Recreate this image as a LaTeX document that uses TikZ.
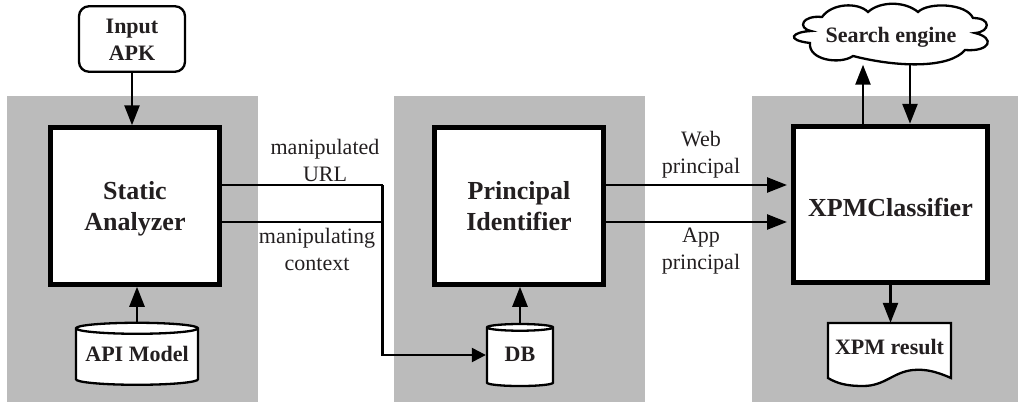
\documentclass[tikz,border=0pt]{standalone}
\usepackage{fontspec}
\setmainfont{Liberation Serif}
\usepackage{tikz}
\usetikzlibrary{arrows.meta,shapes.geometric,positioning}
\definecolor{xpmgray}{RGB}{187,187,187}
\definecolor{xpmtext}{RGB}{35,31,32}
\tikzstyle{panel} = [fill=xpmgray]
\tikzstyle{module} = [rectangle, minimum width=169pt, minimum height=156.5pt, align=center, draw=black, fill=white, line width=5pt, text=xpmtext, text height=54.6pt, font=\fontsize{26}{31}\bfseries\selectfont]
\tikzstyle{store} = [cylinder, shape border rotate=90, minimum height=62pt, draw=black, fill=white, line width=2.3pt, text=xpmtext, text depth=8pt, font=\fontsize{22}{27}\bfseries\selectfont]
\tikzstyle{small} = [align=center, inner sep=0pt, text=xpmtext, font=\fontsize{22}{27}\bfseries\selectfont]
\tikzstyle{note} = [align=center, inner sep=0pt, text=xpmtext, font=\fontsize{22}{27}\selectfont]
\tikzstyle{arrow} = [line width=2.5pt, -{Triangle[length=20pt,width=15pt]}]
\tikzstyle{wire} = [line width=2.3pt]

\begin{document}
\begin{tikzpicture}[x=1pt,y=-1pt]
\useasboundingbox (0,0) rectangle (1018,402);
\fill[panel] (7,96) rectangle (258,402);
\fill[panel] (394,96) rectangle (645,402);
\fill[panel] (752,96) rectangle (1018,402);

\node[module] (analyzer) at (135,206) {Static\\Analyzer};
\node[module, right=210pt of analyzer, text depth=5.6pt] (identifier) {Principal\\Identifier};
\node[module, minimum width=194pt, right=185pt of identifier, yshift=1.5pt, text height=23.6pt] (classifier) {XPMClassifier};

\node[small, draw=black, fill=white, line width=2.3pt, rectangle, rounded corners=10pt, minimum width=106pt, minimum height=65.5pt, text height=42pt] (input) at (132,39) {Input\\APK};
\node[store, aspect=0.1, minimum width=122pt] (model) at (137,358) {API Model};
\node[store, aspect=0.18, minimum width=66pt] (db) at (520,358) {DB};

\draw[wire, fill=white] (811,31) .. controls (797,28) and (802,15) .. (822,17)
  .. controls (832,3) and (858,2) .. (868,12)
  .. controls (880,1) and (905,1) .. (918,12)
  .. controls (928,2) and (966,3) .. (973,18)
  .. controls (992,18) and (990,32) .. (975,33)
  .. controls (996,38) and (990,52) .. (965,50)
  .. controls (950,68) and (900,68) .. (853,56)
  .. controls (840,65) and (808,60) .. (810,43)
  .. controls (785,40) and (792,32) .. cycle;
\node[small, minimum width=194pt, minimum height=59pt, text height=19pt] (engine) at (891,35) {Search engine};

\draw[wire, fill=white] (828,378) -- (828,323) -- (951,323) -- (951,378)
  .. controls (935,371) and (925,369) .. (913,370)
  .. controls (893,372) and (885,386) .. (863,386)
  .. controls (848,386) and (838,384) .. cycle;
\node[small, minimum width=123pt, minimum height=48pt] (result) at (889.5,347) {XPM result};

\draw[arrow] (input) -- (input |- analyzer.north);
\draw[arrow] (model.north) -- (model.north |- analyzer.south);
\draw[arrow] (db.north) -- (db.north |- identifier.south);

\coordinate (turn) at (382.5,185);
\coordinate (join) at (382.5,222);
\coordinate (drop) at (382.5,355);
\draw[wire] (analyzer.east |- turn) -- (turn);
\draw[wire] (analyzer.east |- join) -- (join);
\draw[wire, -{Triangle[length=14pt,width=14pt]}] (turn) -- (drop) -- (drop -| db.west);

\draw[arrow, shorten >=4pt] (identifier.east |- turn) -- (classifier.west |- turn);
\draw[arrow, shorten >=4pt] (identifier.east |- join) -- (classifier.west |- join);

\draw[arrow] ([xshift=-27.5pt]classifier.north) -- ([xshift=-27.5pt]classifier.north |- engine.south);
\draw[arrow] ([xshift=19.5pt]classifier.north |- engine.south) -- ([xshift=19.5pt]classifier.north);
\draw[arrow] (classifier.south) -- (classifier.south |- result.north);

\node[note] (urlnote) at (325,160) {manipulated\\URL};
\node[note] (ctxnote) at (317,249) {manipulating\\context};
\node[note] (webnote) at (701,155) {Web\\principal};
\node[note] (appnote) at (701,251) {App\\principal};
\end{tikzpicture}
\end{document}
